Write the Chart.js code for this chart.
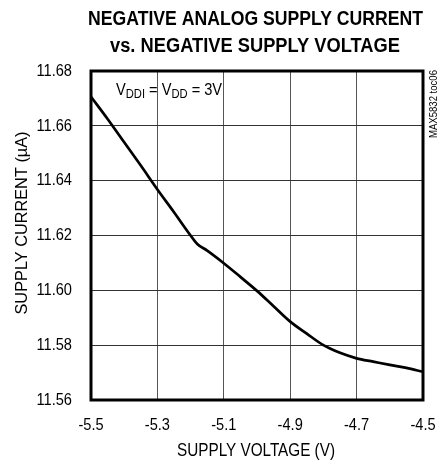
<!DOCTYPE html>
<html>
<head>
<meta charset="utf-8">
<script src="https://cdn.jsdelivr.net/npm/chart.js@4.4.1/dist/chart.umd.min.js"></script>
<style>
  html, body { margin: 0; padding: 0; background: #fff; }
  #wrap { width: 448px; height: 466px; }
</style>
</head>
<body>
<div id="wrap"><canvas id="supplyChart" width="448" height="466"></canvas></div>
<script>
// supply voltage (V) vs negative analog supply current (uA)
const voltage = [-5.50, -5.45, -5.40, -5.35, -5.30, -5.25, -5.20, -5.18, -5.15, -5.10, -5.05,
    -5.00, -4.95, -4.90, -4.85, -4.80, -4.75, -4.70, -4.65, -4.60, -4.55, -4.50];
const current = [11.6706, 11.6625, 11.6540, 11.6455, 11.6368, 11.6285, 11.6200, 11.6169, 11.6145,
    11.6099, 11.6049, 11.5998, 11.5942, 11.5886, 11.5842, 11.5800, 11.5772, 11.5752, 11.5740,
    11.5728, 11.5717, 11.5703];
const xTicks = [-5.5, -5.3, -5.1, -4.9, -4.7, -4.5];
const yTicks = [11.56, 11.58, 11.60, 11.62, 11.64, 11.66, 11.68];
const titleLines = ['NEGATIVE ANALOG SUPPLY CURRENT', 'vs. NEGATIVE SUPPLY VOLTAGE'];

const FONT = '"Liberation Sans", Arial, sans-serif';
const NARROW = 0.86; // the source uses a condensed face

// draw text squeezed horizontally; w = target width or null for NARROW
function squeezed(ctx, txt, x, y, font, w, align) {
    ctx.save();
    ctx.font = font;
    const m = ctx.measureText(txt).width;
    const k = w ? w / m : NARROW;
    ctx.translate(x, y);
    ctx.scale(k, 1);
    ctx.textAlign = align || 'center';
    ctx.fillText(txt, 0, 0);
    ctx.restore();
    return m * k;
}

const decorations = {
    id: 'decorations',
    afterDraw(chart) {
        const ctx = chart.ctx;
        const a = chart.chartArea;
        ctx.save();
        // frame
        ctx.strokeStyle = '#000';
        ctx.lineWidth = 3;
        ctx.strokeRect(a.left, a.top, a.right - a.left, a.bottom - a.top);

        ctx.fillStyle = '#000';
        ctx.textBaseline = 'alphabetic';
        // title
        squeezed(ctx, titleLines[0], 255.5, 25, 'bold 20px ' + FONT, 335);
        squeezed(ctx, titleLines[1], 255, 52, 'bold 20px ' + FONT, 290);

        // tick labels
        const xs = chart.scales.x, ys = chart.scales.y;
        xs.ticks.forEach(t => {
            squeezed(ctx, t.value.toFixed(1), xs.getPixelForValue(t.value), 430, '17px ' + FONT, null, 'center');
        });
        ctx.textBaseline = 'middle';
        ys.ticks.forEach(t => {
            squeezed(ctx, t.value.toFixed(2), 72, ys.getPixelForValue(t.value), '17px ' + FONT, null, 'right');
        });

        // axis titles
        ctx.textBaseline = 'alphabetic';
        squeezed(ctx, 'SUPPLY VOLTAGE (V)', 256, 456, '18px ' + FONT, 158);
        ctx.save();
        ctx.translate(22, 223);
        ctx.rotate(-Math.PI / 2);
        ctx.textBaseline = 'middle';
        squeezed(ctx, 'SUPPLY CURRENT (\u00B5A)', 0, 0, '17px ' + FONT, 183);
        ctx.restore();

        // side id
        ctx.save();
        ctx.translate(434, 104);
        ctx.rotate(-Math.PI / 2);
        ctx.textBaseline = 'middle';
        squeezed(ctx, 'MAX5832 toc06', 0, 0, '11px ' + FONT, 68);
        ctx.restore();

        // condition label with subscripts
        let x = 116;
        const base = 95;
        const part = (txt, size, dy) => {
            x += squeezed(ctx, txt, x, base + dy, size + 'px ' + FONT, null, 'left');
        };
        part('V', 17, 0);
        part('DDI', 13, 3);
        part(' = V', 17, 0);
        part('DD', 13, 3);
        part(' = 3V', 17, 0);
        ctx.restore();
    }
};

new Chart(document.getElementById('supplyChart'), {
    type: 'line',
    data: {
        datasets: [{
            data: voltage.map((v, i) => ({ x: v, y: current[i] })),
            borderColor: '#000',
            borderWidth: 2.7,
            pointRadius: 0,
            tension: 0.3,
            cubicInterpolationMode: 'monotone',
            fill: false
        }]
    },
    options: {
        responsive: false,
        animation: false,
        layout: { padding: { top: 71, right: 25, left: 0, bottom: 0 } },
        plugins: { legend: { display: false }, tooltip: { enabled: false } },
        scales: {
            x: {
                type: 'linear',
                min: -5.5,
                max: -4.5,
                afterFit: (s) => { s.height = 66; },
                afterBuildTicks: (s) => { s.ticks = xTicks.map(v => ({ value: v })); },
                grid: { color: '#555', lineWidth: 1, drawTicks: false },
                border: { display: false },
                ticks: { display: false }
            },
            y: {
                type: 'linear',
                min: 11.56,
                max: 11.68,
                afterFit: (s) => { s.width = 91; },
                afterBuildTicks: (s) => { s.ticks = yTicks.map(v => ({ value: v })); },
                grid: { color: '#333', lineWidth: 1, drawTicks: false },
                border: { display: false },
                ticks: { display: false }
            }
        }
    },
    plugins: [decorations]
});
</script>
</body>
</html>
